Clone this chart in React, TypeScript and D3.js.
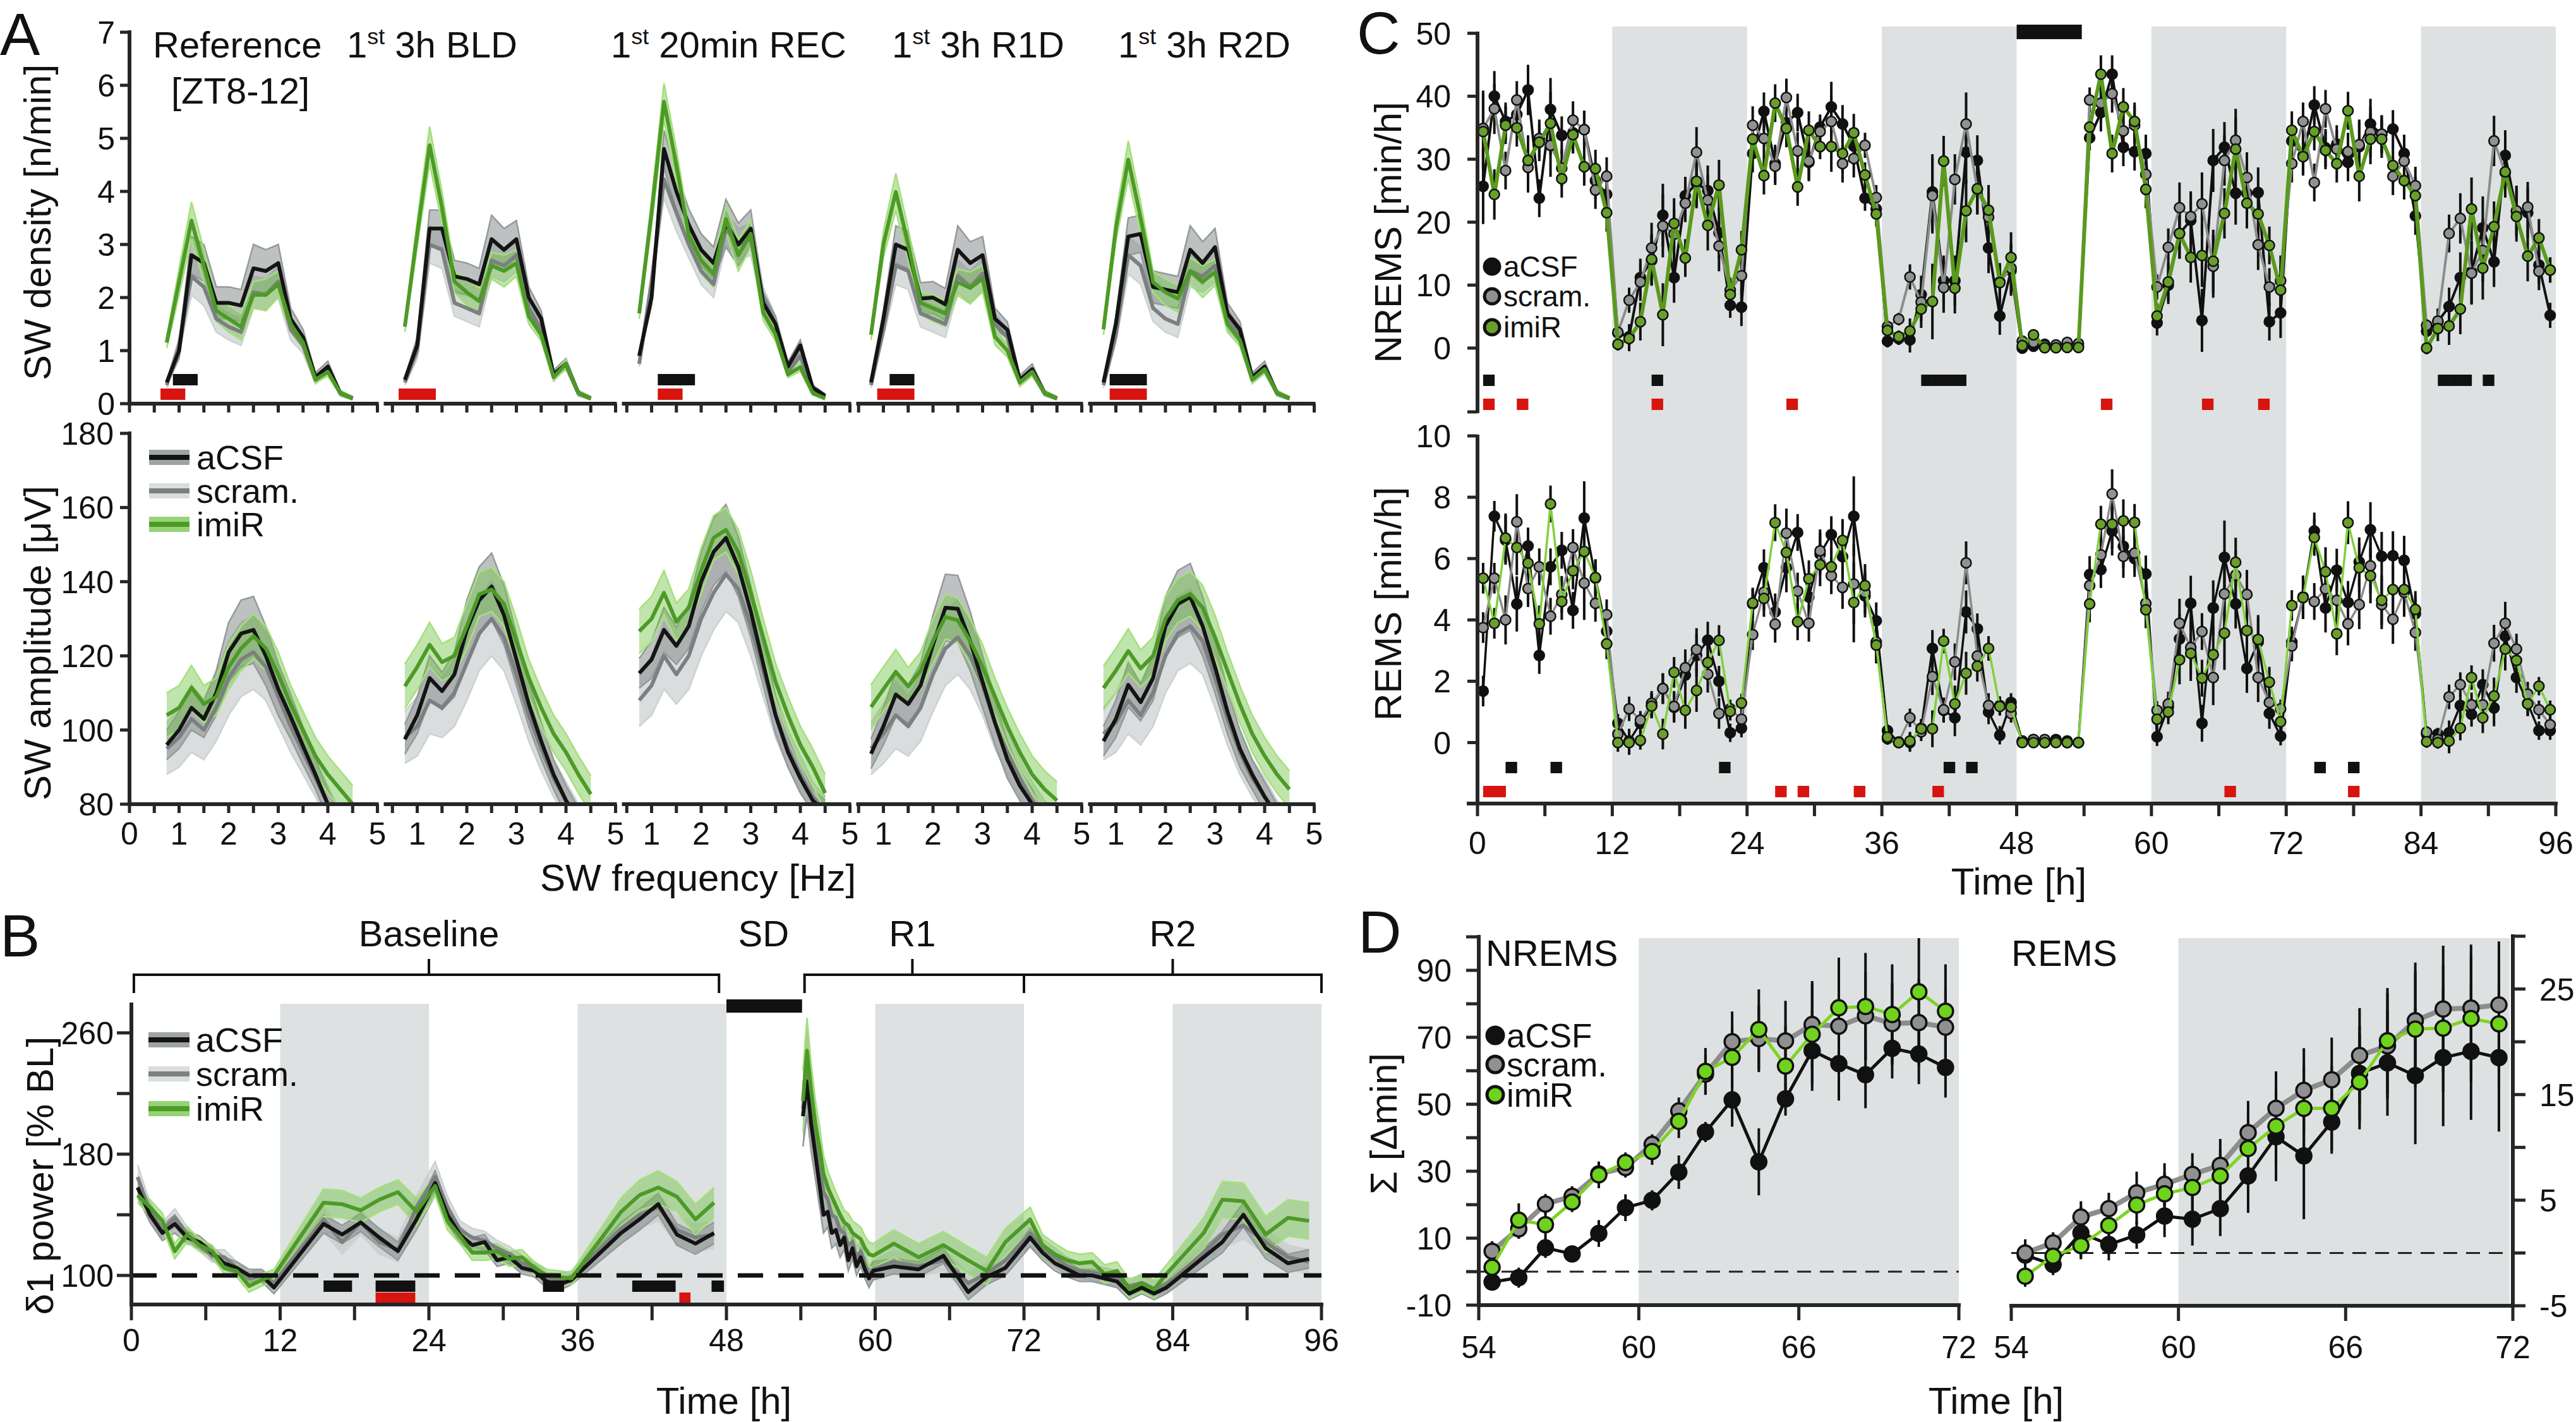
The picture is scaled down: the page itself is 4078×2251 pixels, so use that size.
import React from "react";
import * as d3 from "d3";

const FONT = "'Liberation Sans', Arial, Helvetica, sans-serif";
const AX = "#262626";
const SHADE = "#dde1e1";
const GROUPS = ["aCSF", "scram.", "imiR"];

// ================= Panel A data =================
const A_FREQ = [0.75, 1, 1.25, 1.5, 1.75, 2, 2.25, 2.5, 2.75, 3, 3.25, 3.5, 3.75, 4, 4.25, 4.5];
const A_TITLES = ["Reference", "1st 3h BLD", "1st 20min REC", "1st 3h R1D", "1st 3h R2D"];
const A_SUBTITLE = "[ZT8-12]";
const A_DENS_ACSF = [
  [0.4, 1.0, 2.8, 2.65, 1.9, 1.9, 1.85, 2.55, 2.5, 2.65, 1.6, 1.25, 0.5, 0.7, 0.2, 0.1],
  [0.45, 1.1, 3.3, 3.3, 2.4, 2.35, 2.25, 3.1, 2.9, 3.1, 2.0, 1.6, 0.55, 0.75, 0.2, 0.1],
  [0.9, 2.0, 4.8, 4.0, 3.37, 2.9, 2.65, 3.4, 3.0, 3.3, 1.9, 1.5, 0.7, 1.1, 0.3, 0.15],
  [0.4, 1.6, 3.0, 2.9, 1.98, 2.0, 1.87, 2.9, 2.65, 2.8, 1.6, 1.39, 0.45, 0.65, 0.2, 0.1],
  [0.4, 1.5, 3.15, 3.2, 2.2, 2.15, 2.1, 2.9, 2.65, 2.95, 1.7, 1.4, 0.5, 0.7, 0.2, 0.1],
];
const A_DENS_SCR = [
  [0.35, 1.1, 2.4, 2.2, 1.6, 1.45, 1.35, 2.1, 2.05, 2.3, 1.4, 1.1, 0.45, 0.65, 0.2, 0.1],
  [0.4, 1.0, 3.0, 2.9, 1.9, 1.8, 1.7, 2.7, 2.6, 2.8, 1.8, 1.4, 0.5, 0.75, 0.2, 0.1],
  [0.75, 2.3, 4.23, 3.6, 3.0, 2.5, 2.25, 3.3, 3.0, 3.1, 2.0, 1.5, 0.6, 0.9, 0.25, 0.12],
  [0.35, 1.4, 2.6, 2.5, 1.7, 1.6, 1.5, 2.4, 2.2, 2.45, 1.5, 1.25, 0.4, 0.6, 0.2, 0.1],
  [0.35, 1.3, 2.8, 2.6, 1.8, 1.6, 1.5, 2.5, 2.4, 2.6, 1.6, 1.3, 0.45, 0.65, 0.2, 0.1],
];
const A_DENS_IMIR = [
  [1.15, 2.3, 3.45, 2.6, 1.75, 1.6, 1.45, 2.05, 2.05, 2.25, 1.5, 1.15, 0.45, 0.6, 0.2, 0.1],
  [1.45, 3.2, 4.87, 3.7, 2.3, 2.1, 1.93, 2.6, 2.5, 2.65, 1.65, 1.3, 0.5, 0.75, 0.2, 0.1],
  [1.7, 3.6, 5.69, 4.5, 3.17, 2.7, 2.44, 3.48, 2.8, 3.2, 1.72, 1.3, 0.55, 0.69, 0.2, 0.1],
  [1.3, 3.0, 3.99, 3.0, 1.9, 1.8, 1.7, 2.29, 2.18, 2.36, 1.26, 1.0, 0.4, 0.6, 0.2, 0.1],
  [1.4, 3.3, 4.6, 3.5, 2.29, 2.1, 1.98, 2.5, 2.3, 2.48, 1.5, 1.2, 0.45, 0.65, 0.2, 0.1],
];
const A_DENS_SEM_ACSF = [0.05, 0.15, 0.35, 0.35, 0.3, 0.3, 0.3, 0.45, 0.4, 0.35, 0.2, 0.15, 0.08, 0.1, 0.05, 0.03];
const A_DENS_SEM_SCR = [0.05, 0.15, 0.35, 0.35, 0.25, 0.25, 0.25, 0.3, 0.3, 0.3, 0.2, 0.15, 0.08, 0.08, 0.05, 0.03];
const A_DENS_SEM_IMIR = [0.1, 0.25, 0.35, 0.3, 0.2, 0.25, 0.25, 0.25, 0.3, 0.25, 0.15, 0.12, 0.06, 0.08, 0.04, 0.03];

const A_AMP_ACSF = [
  [96, 100, 106, 103, 110, 121, 126, 127, 120, 111, 103.6, 95.7, 88, 80, 74, 70],
  [97.5, 104, 114, 110.5, 115, 127, 135, 138.7, 131, 119, 107, 97, 88, 81, 76, 72],
  [115.3, 119, 127, 122.7, 128, 140, 148, 151.8, 144, 132, 118, 104, 94, 87, 81, 78],
  [93.6, 101, 109.6, 107, 112, 123, 133, 132.7, 124, 113, 102, 92, 85, 80, 75, 72],
  [97, 103, 112.2, 107.5, 114, 128, 134, 135.9, 128, 117, 105, 95, 88, 82, 77, 73],
];
const A_AMP_SCR = [
  [95, 98, 103, 100, 106, 114, 119, 121, 117, 109, 101, 94, 87, 80, 74, 70],
  [98, 101, 108, 106, 110, 118, 126, 130, 125, 115, 104, 95, 87, 81, 76, 73],
  [108, 112, 120, 115, 120, 130, 137, 142, 138, 128, 116, 104, 95, 88, 82, 78],
  [95, 99, 104, 101, 106, 115, 122, 125, 120, 112, 102, 94, 87, 81, 77, 74],
  [99, 102, 108, 104, 110, 120, 126, 128, 124, 114, 103, 94, 87, 82, 77, 74],
];
const A_AMP_IMIR = [
  [104, 106, 111.4, 107, 109, 117, 122, 125.3, 122, 115, 107, 100, 93, 88, 84, 80],
  [111.8, 117, 123, 118.3, 120, 128, 136.6, 137.9, 134, 124, 114, 106, 99, 94, 88, 82.7],
  [126.6, 130, 137, 129.2, 133, 143, 151.8, 154, 148, 137, 125, 113, 104, 96, 90, 83],
  [106.2, 111, 115.7, 111.8, 116, 124, 130.5, 129.6, 124, 117, 109, 101, 94, 88, 84, 81],
  [111.3, 116, 121.3, 116.6, 120, 130, 135, 136.7, 133, 125, 116, 107, 99, 93, 88, 84],
];
const A_AMP_SEM_ACSF = [4, 5, 6, 5, 6, 8, 9, 9, 8, 7, 6, 5, 4, 4, 3, 3];
const A_AMP_SEM_SCR = [7, 8, 9, 8, 9, 10, 10, 10, 9, 8, 7, 6, 5, 5, 4, 4];
const A_AMP_SEM_IMIR = [6, 6, 6, 5, 5, 6, 6, 6, 6, 6, 5, 5, 5, 5, 5, 5];

// significant frequencies per subpanel (Hz)
const A_SIG_BLACK = [[1.0, 1.25], [], [1.25, 1.5, 1.75], [1.25, 1.5], [1.0, 1.25, 1.5]];
const A_SIG_RED = [[0.75, 1.0], [0.75, 1.0, 1.25], [1.25, 1.5], [1.0, 1.25, 1.5], [1.0, 1.25, 1.5]];

// ================= Panel B data =================
const B_T_BASE = [0.5, 1.5, 2.5, 3.5, 4.5, 5.5, 6.5, 7.5, 8.5, 9.5, 10.5, 11.5,
  15.5, 17, 18.5, 20, 21.5, 23,
  24.5, 25.5, 26.5, 27.5, 28.5, 29.5, 30.5, 31.5, 32.5, 33.5, 34.5, 35.5,
  39.5, 41, 42.5, 44, 45.5, 47];
const B_T_REC = [54.17, 54.5, 54.83, 55.17, 55.5, 55.83, 56.17, 56.5, 56.83, 57.17, 57.5, 57.83, 58.17, 58.5, 58.83, 59.17, 59.5, 59.83,
  61.5, 63.5, 65.5, 67.5, 69, 70.5,
  72.5, 73.5, 74.5, 75.5, 76.5, 77.5, 78.5, 79.5, 80.5, 81.5, 82.5, 83.5,
  86.5, 88, 89.7, 91.5, 93.3, 95];
const B_BASE_ACSF = [158, 140, 128, 134, 125, 122, 115, 108, 105, 100, 100, 92,
  134, 127, 135, 125, 116, 137,
  161, 140, 127, 120, 122, 110, 112, 105, 103, 96, 94, 97,
  128, 137, 147, 127, 121, 128];
const B_BASE_SCR = [165, 142, 130, 138, 127, 120, 113, 112, 105, 98, 100, 95,
  137, 122, 135, 122, 117, 145,
  165, 145, 130, 125, 123, 118, 114, 108, 105, 98, 97, 99,
  131, 140, 145, 130, 125, 127];
const B_BASE_IMIR = [153, 145, 136, 116, 127, 120, 116, 105, 103, 93, 97, 100,
  148, 147, 143, 150, 155, 142,
  159, 136, 126, 115, 115, 116, 111, 112, 105, 100, 99, 98,
  142, 153, 158, 152, 137, 148];
const B_REC_ACSF = [205, 228, 200, 180, 160, 140, 142, 128, 130, 120, 125, 110, 118, 106, 112, 104, 98, 103,
  106, 104, 113, 89, 99, 105,
  125, 115, 108, 104, 100, 100, 98, 96, 88, 92, 88, 92,
  112, 122, 140, 118, 108, 111];
const B_REC_SCR = [210, 235, 215, 190, 172, 155, 150, 140, 138, 130, 128, 120, 122, 112, 116, 108, 100, 104,
  109, 106, 110, 95, 101, 110,
  128, 118, 112, 106, 103, 102, 100, 98, 93, 95, 91, 94,
  115, 127, 133, 122, 112, 109];
const B_REC_IMIR = [215, 248, 222, 200, 185, 167, 158, 152, 146, 140, 135, 133, 128, 126, 124, 118, 114, 113,
  121, 112, 120, 110, 103, 122,
  137, 120, 114, 110, 108, 109, 101, 103, 91, 95, 91, 101,
  128, 150, 149, 127, 138, 136];
const B_BASE_SEM_ACSF = [6, 5, 5, 6, 4, 4, 4, 4, 4, 4, 4, 4, 6, 6, 6, 6, 6, 7, 8, 6, 5, 5, 5, 4, 4, 4, 4, 4, 4, 3, 7, 7, 7, 7, 7, 7];
const B_BASE_SEM_SCR = [8, 6, 5, 6, 5, 4, 4, 5, 4, 4, 4, 4, 8, 8, 8, 8, 8, 8, 10, 7, 6, 6, 6, 5, 5, 5, 4, 4, 4, 4, 9, 9, 9, 9, 9, 9];
const B_BASE_SEM_IMIR = [5, 5, 5, 5, 5, 4, 4, 4, 4, 4, 4, 4, 9, 9, 8, 8, 8, 9, 6, 6, 5, 5, 5, 5, 5, 5, 4, 4, 4, 4, 9, 10, 11, 10, 10, 10];
const B_REC_SEM_ACSF = [20, 22, 18, 16, 14, 12, 10, 10, 9, 8, 8, 7, 7, 6, 6, 6, 6, 6, 5, 5, 5, 5, 5, 5, 6, 5, 5, 5, 4, 4, 4, 4, 4, 4, 4, 4, 6, 7, 8, 7, 6, 6];
const B_REC_SEM_SCR = [25, 28, 22, 18, 15, 13, 12, 11, 10, 9, 8, 8, 7, 7, 6, 6, 6, 6, 7, 7, 7, 7, 7, 7, 8, 6, 6, 6, 5, 5, 5, 5, 5, 5, 5, 5, 8, 9, 9, 8, 8, 8];
const B_REC_SEM_IMIR = [20, 22, 18, 16, 14, 12, 11, 10, 9, 9, 8, 8, 8, 8, 8, 8, 8, 8, 9, 9, 9, 9, 9, 9, 8, 7, 7, 6, 6, 6, 6, 6, 6, 6, 6, 6, 10, 12, 12, 12, 12, 12];
const B_SIG_BLACK = [[15.5, 17.8], [19.7, 22.9], [33.2, 34.9], [40.4, 43.9], [46.8, 47.8]];
const B_SIG_RED = [[19.7, 22.9], [44.2, 45.1]];
const B_PHASES = ["Baseline", "SD", "R1", "R2"];

// ================= Panel C data (hourly, 0-96 h) =================
const C_NREM_ACSF = [25.7, 40.0, 36.0, 37.1, 41.0, 23.8, 37.9, 33.8, 34.2, 34.7, 26.6, 24.4,
  2.4, 1.8, 11.2, 13.9, 21.1, 11.2, 24.2, 26.2, 25.0, 18.3, 6.8, 6.5,
  30.9, 37.6, 29.3, 35.8, 37.4, 29.5, 35.1, 38.3, 35.6, 32.1, 23.8, 22.1,
  1.1, 1.5, 1.3, 8.5, 24.8, 10.7, 10.7, 31.1, 29.8, 15.9, 5.1, 12.3,
  0.0, 0.3, 0.6, 0.2, 0.3, 0.3, 33.4, 37.4, 43.5, 31.9, 31.2, 30.9,
  4.0, 10.0, 18.2, 20.3, 4.4, 29.8, 31.9, 24.6, 24.6, 24.7, 4.2, 5.6,
  32.9, 30.6, 38.6, 31.8, 32.4, 29.5, 32.0, 35.6, 33.9, 34.8, 30.9, 21.0,
  2.7, 4.2, 6.6, 11.2, 12.1, 19.1, 13.7, 30.6, 21.7, 21.5, 13.2, 5.2];
const C_NREM_SCR = [34.9, 38.0, 28.2, 39.4, 28.7, 33.3, 32.2, 28.6, 36.2, 34.7, 25.1, 27.3,
  2.5, 7.6, 10.5, 15.9, 19.4, 18.1, 23.0, 31.1, 23.5, 16.2, 9.2, 11.5,
  35.4, 33.3, 28.9, 39.8, 31.3, 29.7, 34.4, 36.0, 29.3, 30.1, 32.2, 23.9,
  3.4, 4.6, 11.3, 7.3, 24.2, 9.6, 26.8, 35.6, 25.2, 20.8, 10.5, 12.7,
  1.1, 0.9, 0.4, 0.5, 0.9, 0.7, 39.4, 38.9, 40.4, 34.5, 35.4, 27.6,
  9.7, 16.0, 22.3, 20.9, 22.9, 13.0, 29.8, 33.0, 27.1, 16.4, 9.7, 10.7,
  29.3, 36.0, 26.3, 38.0, 31.6, 31.2, 32.3, 34.3, 34.0, 27.3, 29.7, 25.8,
  3.6, 4.3, 18.2, 20.6, 11.9, 15.5, 32.9, 27.9, 21.8, 22.4, 12.2, 12.4];
const C_NREM_IMIR = [34.4, 24.4, 35.4, 35.0, 29.8, 32.7, 35.7, 26.9, 33.9, 28.8, 28.5, 21.5,
  0.6, 1.5, 4.2, 14.1, 5.3, 19.8, 14.3, 26.5, 19.5, 25.9, 8.5, 15.6,
  33.2, 27.4, 38.9, 34.9, 25.6, 34.6, 32.0, 32.0, 30.9, 34.2, 27.5, 21.3,
  2.8, 1.8, 2.7, 6.2, 7.4, 29.7, 9.5, 21.8, 25.3, 21.9, 10.4, 14.4,
  0.4, 2.1, 0.05, 0.05, 0.1, 0.1, 35.1, 43.5, 30.9, 38.3, 36.0, 25.2,
  5.1, 10.5, 18.2, 14.4, 14.7, 13.8, 21.4, 31.6, 23.0, 21.3, 16.3, 9.2,
  34.6, 30.4, 34.4, 31.4, 29.3, 37.7, 27.3, 33.2, 33.2, 29.0, 26.6, 24.2,
  0, 3.1, 3.5, 6.2, 22.1, 12.7, 19.3, 28.0, 20.9, 14.6, 17.5, 12.4];
const C_NREM_SEM = [6, 4, 3, 3, 4, 3, 5, 3, 3, 3, 3, 3,
  1, 2, 3, 4, 5, 4, 3, 4, 4, 4, 2, 3,
  3, 3, 3, 3, 3, 3, 2, 4, 3, 3, 2, 2,
  1, 1, 2, 3, 6, 4, 4, 5, 4, 4, 3, 4,
  0.3, 0.3, 0.3, 0.3, 0.3, 0.3, 2, 3, 3, 3, 3, 3,
  2, 3, 4, 4, 5, 5, 4, 5, 4, 4, 3, 4,
  3, 3, 3, 3, 3, 3, 4, 4, 3, 3, 3, 3,
  1, 2, 3, 4, 5, 5, 4, 4, 4, 4, 3, 2];
const C_REM_ACSF = [1.68, 7.38, 6.6, 4.52, 6.41, 2.84, 5.73, 6.27, 4.31, 7.32, 5.36, 3.63,
  0.63, 0.05, 0.63, 1.21, 1.76, 1.15, 2.2, 2.84, 3.34, 2.0, 0.32, 0.47,
  4.52, 5.7, 4.26, 5.7, 6.85, 4.75, 6.15, 6.78, 6.06, 7.38, 4.78, 3.97,
  0.39, 0, 0, 0.47, 3.07, 1.05, 0.81, 4.26, 3.71, 1.0, 0.24, 1.31,
  0.05, 0.1, 0, 0.1, 0.05, 0, 5.48, 5.64, 6.9, 6.4, 6.0, 5.5,
  0.19, 1.16, 3.38, 4.54, 0.63, 4.39, 6.04, 4.52, 2.42, 3.28, 0.95, 0.21,
  3.28, 4.73, 6.9, 4.39, 5.62, 4.57, 5.89, 6.94, 6.07, 6.09, 5.94, 4.2,
  0.28, 0.28, 0.32, 1.21, 0.92, 1.89, 1.13, 3.47, 2.12, 1.28, 0.39, 0.39];
const C_REM_SCR = [3.75, 5.36, 4.0, 7.2, 5.02, 5.73, 4.12, 4.83, 6.36, 5.2, 4.54, 4.17,
  0.28, 1.1, 0.73, 1.28, 1.76, 1.18, 2.44, 3.03, 2.23, 0.95, 1.1, 0.76,
  3.52, 4.9, 3.86, 6.83, 4.94, 3.89, 6.25, 5.44, 5.06, 5.17, 4.89, 3.28,
  0.13, 0.02, 0.81, 0.35, 2.15, 1.07, 2.63, 5.86, 2.82, 1.21, 1.21, 0.95,
  0.05, 0.1, 0.1, 0.05, 0, 0, 5.12, 6.12, 8.11, 6.07, 6.18, 4.54,
  1.05, 1.26, 3.89, 3.1, 3.62, 2.12, 4.85, 5.46, 4.83, 2.12, 1.31, 1.1,
  3.15, 4.75, 4.6, 5.01, 4.64, 3.87, 4.5, 5.76, 4.5, 4.02, 4.9, 3.59,
  0.34, 0.1, 1.49, 1.89, 1.23, 1.23, 3.24, 3.89, 3.05, 1.58, 1.07, 0.58];
const C_REM_IMIR = [5.36, 3.89, 6.67, 6.36, 5.85, 3.87, 7.78, 4.6, 5.6, 6.23, 5.38, 3.22,
  0, 0, 0.07, 1.19, 0.28, 2.29, 1.05, 1.7, 2.61, 3.33, 1.02, 1.29,
  4.55, 4.7, 7.17, 6.2, 3.94, 5.34, 5.8, 5.73, 6.59, 4.57, 5.12, 3.18,
  0.18, 0, 0.05, 0.45, 0.45, 3.31, 1.26, 2.26, 2.49, 3.07, 1.18, 1.16,
  0, 0, 0, 0, 0, 0, 4.52, 7.12, 7.12, 7.23, 7.18, 4.33,
  0.76, 1.0, 2.7, 2.91, 2.1, 2.87, 3.57, 5.88, 3.65, 3.36, 1.97, 0.68,
  4.47, 4.73, 6.69, 5.57, 3.55, 7.17, 5.7, 5.44, 4.64, 4.99, 4.99, 4.34,
  0.03, 0, 0.05, 0.47, 2.12, 0.81, 1.52, 3.05, 2.68, 1.26, 1.84, 1.07];
const C_REM_SEM = [0.5, 0.5, 0.8, 0.9, 0.6, 0.6, 0.6, 0.6, 0.6, 1.2, 0.6, 0.5,
  0.3, 0.4, 0.3, 0.4, 0.5, 0.5, 0.6, 0.7, 0.6, 0.5, 0.3, 0.3,
  0.5, 0.6, 0.6, 0.8, 0.6, 0.6, 0.7, 0.6, 0.7, 1.3, 0.7, 0.6,
  0.2, 0.1, 0.3, 0.3, 0.6, 0.4, 0.6, 0.7, 0.5, 0.4, 0.3, 0.3,
  0.05, 0.05, 0.05, 0.05, 0.05, 0.05, 0.6, 0.6, 0.8, 0.7, 0.6, 0.6,
  0.3, 0.4, 0.8, 0.9, 0.6, 0.9, 1.2, 0.8, 0.8, 0.8, 0.5, 0.3,
  0.5, 0.7, 0.6, 0.8, 0.7, 0.7, 0.8, 0.9, 0.8, 0.8, 0.8, 0.6,
  0.2, 0.2, 0.4, 0.4, 0.4, 0.5, 0.6, 0.7, 0.5, 0.4, 0.3, 0.3];
const C_NREM_SIG_BLACK = [0, 15, 39, 40, 41, 42, 85, 86, 87, 89];
const C_NREM_SIG_RED = [0, 3, 15, 27, 55, 64, 69];
const C_REM_SIG_BLACK = [2, 6, 21, 41, 43, 74, 77];
const C_REM_SIG_RED = [0, 1, 26, 28, 33, 40, 66, 77];

// ================= Panel D data (54-72 h) =================
const D_T = [54.5, 55.5, 56.5, 57.5, 58.5, 59.5, 60.5, 61.5, 62.5, 63.5, 64.5, 65.5, 66.5, 67.5, 68.5, 69.5, 70.5, 71.5];
const D_NREM_ACSF = [-3.1, -1.8, 7.1, 5.3, 11.4, 19.1, 21.3, 29.7, 41.7, 51.3, 32.8, 51.6, 66.0, 62.1, 58.8, 66.7, 65.0, 61.0];
const D_NREM_SCR = [6.1, 12.8, 20.2, 22.5, 29.2, 31.1, 38.0, 48.0, 59.0, 68.7, 69.6, 68.9, 73.8, 73.3, 76.4, 74.1, 74.4, 73.0];
const D_NREM_IMIR = [1.3, 15.4, 14.0, 20.8, 28.9, 32.6, 35.9, 44.9, 59.8, 64.0, 72.3, 61.4, 70.9, 78.8, 79.2, 76.8, 83.6, 77.8];
const D_NREM_SEM_ACSF = [2, 3, 3, 2, 4, 4, 3, 5, 3, 8, 10, 5, 12, 11, 10, 9, 9, 9];
const D_NREM_SEM_SCR = [3, 3, 3, 3, 3, 3, 3, 4, 6, 9, 10, 12, 13, 12, 13, 12, 13, 12];
const D_NREM_SEM_IMIR = [3, 5, 4, 3, 4, 3, 4, 5, 7, 9, 12, 12, 15, 15, 16, 15, 16, 14];
const D_REM_ACSF = [-0.2, -1.1, 1.9, 0.8, 1.7, 3.5, 3.2, 4.2, 7.3, 11.0, 9.2, 12.4, 17.0, 18.0, 16.8, 18.5, 19.1, 18.5];
const D_REM_SCR = [0.0, 0.96, 3.4, 4.2, 5.7, 6.5, 7.45, 8.3, 11.4, 13.7, 15.4, 16.4, 18.7, 19.6, 22.0, 23.1, 23.2, 23.5];
const D_REM_IMIR = [-2.2, -0.3, 0.7, 2.6, 4.55, 5.6, 6.2, 7.3, 9.9, 12.0, 13.7, 13.7, 16.2, 20.1, 21.2, 21.3, 22.2, 21.7];
const D_REM_SEM_ACSF = [1.5, 1, 2.5, 1.5, 1.3, 2, 2.5, 2.6, 3.5, 4.2, 6, 3, 4.5, 5, 6.5, 6.5, 6.5, 7];
const D_REM_SEM_SCR = [1, 1, 1.5, 1.5, 2, 2, 2, 2.5, 3, 3.5, 4, 4, 4.5, 5, 5.5, 6, 6, 6];
const D_REM_SEM_IMIR = [1, 1, 1.2, 1.5, 1.8, 2, 2.3, 2.5, 3, 3.5, 4, 4, 4.5, 5, 5.5, 6, 6, 6];

// ================= styles =================
const BAND_STYLE = [
  { line: "#141414", band: "#7d8484", bandOp: 0.5, edge: "#949a9a" },
  { line: "#7c8080", band: "#c2c7c7", bandOp: 0.6, edge: "#cdd1d1" },
  { line: "#4d9a27", band: "#72c448", bandOp: 0.45, edge: "#a5e07c" },
];
const C_STYLE_N = [
  { line: "#111111", fill: "#111111", lw: 4 },
  { line: "#8c8c8c", fill: "#909292", lw: 4 },
  { line: "#5a9a1c", fill: "#689f2a", lw: 6 },
];
const C_STYLE_R = [
  { line: "#111111", fill: "#111111", lw: 3.5 },
  { line: "#8c8c8c", fill: "#909292", lw: 3.5 },
  { line: "#7fd03a", fill: "#6a9f2c", lw: 3.5 },
];
const D_STYLE = [
  { line: "#111111", fill: "#111111", lw: 5 },
  { line: "#8d8d8d", fill: "#909090", lw: 8 },
  { line: "#7ed321", fill: "#6fd21c", lw: 5 },
];

function paths(xs: number[], m: number[], s: number[], sx: any, sy: any) {
  const line = d3.line<number>().x((_, i) => sx(xs[i])).y((d) => sy(d))(m) as string;
  const area = d3.area<number>().x((_, i) => sx(xs[i])).y0((d, i) => sy(d - s[i])).y1((d, i) => sy(d + s[i]))(m) as string;
  const up = d3.line<number>().x((_, i) => sx(xs[i])).y((d, i) => sy(d + s[i]))(m) as string;
  const lo = d3.line<number>().x((_, i) => sx(xs[i])).y((d, i) => sy(d - s[i]))(m) as string;
  return { line, area, up, lo };
}

function Title({ x, y, t, size }: any) {
  if (t.startsWith("1st")) {
    return (
      <text x={x} y={y} fontSize={size} style={{ whiteSpace: "pre" }}>
        1<tspan fontSize={size * 0.62} dy={-size * 0.36}>st</tspan>
        <tspan dy={size * 0.36}>{t.slice(3)}</tspan>
      </text>
    );
  }
  return <text x={x} y={y} fontSize={size}>{t}</text>;
}

function BandGroup({ xs, means, sems, sx, sy, keyp }: any) {
  const order = [1, 0, 2];
  const ps = means.map((m: number[], g: number) => paths(xs, m, sems[g], sx, sy));
  return (
    <g>
      {order.map((g) => (
        <g key={keyp + "b" + g}>
          <path d={ps[g].area} fill={BAND_STYLE[g].band} fillOpacity={BAND_STYLE[g].bandOp} stroke="none" />
          <path d={ps[g].up} fill="none" stroke={BAND_STYLE[g].edge} strokeWidth={2.5} />
          <path d={ps[g].lo} fill="none" stroke={BAND_STYLE[g].edge} strokeWidth={2.5} />
        </g>
      ))}
      {order.map((g) => (
        <path key={keyp + "l" + g} d={ps[g].line} fill="none" stroke={BAND_STYLE[g].line} strokeWidth={6} strokeLinejoin="round" />
      ))}
    </g>
  );
}

// ================= Panel A =================
const A_X0 = [205, 582, 953, 1320, 1688];
const A_HZ = 78.5;

function PanelA() {
  const yTop = d3.scaleLinear().domain([0, 7]).range([639, 51]);
  const yBot = d3.scaleLinear().domain([80, 180]).range([1273, 686]);
  const subs = A_X0.map((x0) => d3.scaleLinear().domain([0, 5]).range([x0, x0 + 5 * A_HZ]));
  const els: any[] = [];
  els.push(
    <defs key="adefs">
      <clipPath id="clipATop"><rect x={0} y={20} width={2200} height={619} /></clipPath>
      <clipPath id="clipABot"><rect x={0} y={660} width={2200} height={613} /></clipPath>
    </defs>
  );
  subs.forEach((sx, k) => {
    els.push(
      <g key={"adens" + k} clipPath="url(#clipATop)">
        <BandGroup xs={A_FREQ} means={[A_DENS_ACSF[k], A_DENS_SCR[k], A_DENS_IMIR[k]]}
          sems={[A_DENS_SEM_ACSF, A_DENS_SEM_SCR, A_DENS_SEM_IMIR]} sx={sx} sy={yTop} keyp={"ad" + k} />
      </g>
    );
    els.push(
      <g key={"aamp" + k} clipPath="url(#clipABot)">
        <BandGroup xs={A_FREQ} means={[A_AMP_ACSF[k], A_AMP_SCR[k], A_AMP_IMIR[k]]}
          sems={[A_AMP_SEM_ACSF, A_AMP_SEM_SCR, A_AMP_SEM_IMIR]} sx={sx} sy={yBot} keyp={"aa" + k} />
      </g>
    );
    const sb = A_SIG_BLACK[k];
    if (sb.length) {
      els.push(<rect key={"asb" + k} x={sx(sb[0] - 0.125)} y={592} width={sx(sb[sb.length - 1] + 0.125) - sx(sb[0] - 0.125)} height={18} fill="#111" />);
    }
    const sr = A_SIG_RED[k];
    if (sr.length) {
      els.push(<rect key={"asr" + k} x={sx(sr[0] - 0.125)} y={615} width={sx(sr[sr.length - 1] + 0.125) - sx(sr[0] - 0.125)} height={18} fill="#d7140f" />);
    }
    const segStart = k === 0 ? sx(0) : subs[k - 1](5) + 10;
    const segEnd = sx(5);
    [639, 1273].forEach((yy, j) => {
      els.push(<line key={"aax" + k + j} x1={segStart} x2={segEnd + 2} y1={yy} y2={yy} stroke={AX} strokeWidth={6} />);
      d3.range(0, 5.01, 0.5).forEach((v) => {
        const px = sx(v);
        if (px >= segStart - 1) {
          els.push(<line key={"aat" + k + j + v} x1={px} x2={px} y1={yy} y2={yy + 14} stroke={AX} strokeWidth={5} />);
        }
      });
    });
    d3.range(k === 0 ? 0 : 1, 6).forEach((v) => {
      els.push(<text key={"axl" + k + v} x={sx(v)} y={1337} fontSize={50} textAnchor="middle">{v}</text>);
    });
  });
  els.push(<line key="ayt" x1={205} x2={205} y1={48} y2={642} stroke={AX} strokeWidth={6} />);
  d3.range(0, 8).forEach((v) => {
    els.push(<line key={"aytt" + v} x1={190} x2={205} y1={yTop(v)} y2={yTop(v)} stroke={AX} strokeWidth={5} />);
    els.push(<text key={"aytl" + v} x={182} y={yTop(v) + 18} fontSize={50} textAnchor="end">{v}</text>);
  });
  els.push(<line key="ayb" x1={205} x2={205} y1={683} y2={1276} stroke={AX} strokeWidth={6} />);
  d3.range(80, 181, 20).forEach((v) => {
    els.push(<line key={"aybt" + v} x1={190} x2={205} y1={yBot(v)} y2={yBot(v)} stroke={AX} strokeWidth={5} />);
    els.push(<text key={"aybl" + v} x={180} y={yBot(v) + 18} fontSize={50} textAnchor="end">{v}</text>);
  });
  const tx = [242, 549, 967, 1412, 1770];
  A_TITLES.forEach((t, k) => els.push(<Title key={"at" + k} x={tx[k]} y={91} t={t} size={58} />));
  els.push(<text key="asub" x={271} y={164} fontSize={58}>{A_SUBTITLE}</text>);
  els.push(<text key="aylab1" transform="translate(80,352) rotate(-90)" fontSize={60} textAnchor="middle">SW density [n/min]</text>);
  els.push(<text key="aylab2" transform="translate(80,1018) rotate(-90)" fontSize={60} textAnchor="middle">SW amplitude [μV]</text>);
  els.push(<text key="axlab" x={1105} y={1410} fontSize={60} textAnchor="middle">SW frequency [Hz]</text>);
  [724, 777, 830].forEach((yy, g) => {
    els.push(<rect key={"alr" + g} x={236} y={yy - 12} width={64} height={24} fill={BAND_STYLE[g].band} fillOpacity={g === 1 ? 0.6 : 0.75} />);
    els.push(<line key={"all" + g} x1={236} x2={300} y1={yy} y2={yy} stroke={BAND_STYLE[g].line} strokeWidth={8} />);
    els.push(<text key={"alt" + g} x={311} y={yy + 19} fontSize={54}>{GROUPS[g]}</text>);
  });
  els.push(<text key="A" x={0} y={87} fontSize={95}>A</text>);
  return <g>{els}</g>;
}

// ================= Panel B =================
function PanelB() {
  const sx = d3.scaleLinear().domain([0, 96]).range([208, 2092]);
  const sy = d3.scaleLinear().domain([100, 260]).range([2019, 1635]);
  const els: any[] = [];
  [12, 36, 60, 84].forEach((t) => {
    els.push(<rect key={"bs" + t} x={sx(t)} y={1589} width={sx(t + 12) - sx(t)} height={2065 - 1589} fill={SHADE} />);
  });
  els.push(
    <BandGroup key="bbase" xs={B_T_BASE} means={[B_BASE_ACSF, B_BASE_SCR, B_BASE_IMIR]}
      sems={[B_BASE_SEM_ACSF, B_BASE_SEM_SCR, B_BASE_SEM_IMIR]} sx={sx} sy={sy} keyp="bb" />
  );
  els.push(
    <BandGroup key="brec" xs={B_T_REC} means={[B_REC_ACSF, B_REC_SCR, B_REC_IMIR]}
      sems={[B_REC_SEM_ACSF, B_REC_SEM_SCR, B_REC_SEM_IMIR]} sx={sx} sy={sy} keyp="br" />
  );
  els.push(<line key="bdash" x1={208} x2={sx(96)} y1={sy(100)} y2={sy(100)} stroke="#111" strokeWidth={7} strokeDasharray="40 24" />);
  B_SIG_BLACK.forEach((b, i) => els.push(<rect key={"bsb" + i} x={sx(b[0])} y={2027} width={sx(b[1]) - sx(b[0])} height={18} fill="#111" />));
  B_SIG_RED.forEach((b, i) => els.push(<rect key={"bsr" + i} x={sx(b[0])} y={2046} width={sx(b[1]) - sx(b[0])} height={18} fill="#d7140f" />));
  els.push(<line key="bya" x1={208} x2={208} y1={1587} y2={2068} stroke={AX} strokeWidth={6} />);
  [100, 140, 180, 220, 260].forEach((v) => {
    els.push(<line key={"byt" + v} x1={185} x2={208} y1={sy(v)} y2={sy(v)} stroke={AX} strokeWidth={5} />);
    if (v % 80 === 20) {
      els.push(<text key={"byl" + v} x={180} y={sy(v) + 18} fontSize={50} textAnchor="end">{v}</text>);
    }
  });
  els.push(<line key="bxa" x1={205} x2={sx(96) + 3} y1={2065} y2={2065} stroke={AX} strokeWidth={6} />);
  d3.range(0, 97, 6).forEach((t) => {
    els.push(<line key={"bxt" + t} x1={sx(t)} x2={sx(t)} y1={2065} y2={2090} stroke={AX} strokeWidth={5} />);
    if (t % 12 === 0) els.push(<text key={"bxl" + t} x={sx(t)} y={2139} fontSize={50} textAnchor="middle">{t}</text>);
  });
  els.push(<text key="bxlab" x={1146} y={2238} fontSize={60} textAnchor="middle">Time [h]</text>);
  els.push(<text key="bylab" transform="translate(84,1861) rotate(-90)" fontSize={60} textAnchor="middle">δ1 power [% BL]</text>);
  els.push(<rect key="bsd" x={sx(48)} y={1582} width={sx(54.1) - sx(48)} height={21} fill="#111" />);
  const bk = { stroke: "#111", strokeWidth: 4, fill: "none" };
  els.push(<path key="bbr1" d={`M${sx(0.2)},1572 V1543 H${sx(47.4)} V1572`} {...bk} />);
  els.push(<line key="bbr1t" x1={sx(24)} x2={sx(24)} y1={1543} y2={1518} {...bk} />);
  els.push(<path key="bbr2" d={`M${sx(54.3)},1572 V1543 H${sx(96)} V1572`} {...bk} />);
  els.push(<line key="bbr2a" x1={sx(63)} x2={sx(63)} y1={1543} y2={1518} {...bk} />);
  els.push(<line key="bbr2b" x1={sx(84)} x2={sx(84)} y1={1543} y2={1518} {...bk} />);
  els.push(<line key="bbr2c" x1={sx(72)} x2={sx(72)} y1={1543} y2={1572} {...bk} />);
  const phx = [24, 51, 63, 84];
  B_PHASES.forEach((p, i) => els.push(<text key={"bph" + i} x={sx(phx[i])} y={1498} fontSize={58} textAnchor="middle">{p}</text>));
  [1646, 1700, 1755].forEach((yy, g) => {
    els.push(<rect key={"blr" + g} x={235} y={yy - 12} width={65} height={24} fill={BAND_STYLE[g].band} fillOpacity={g === 1 ? 0.6 : 0.75} />);
    els.push(<line key={"bll" + g} x1={235} x2={300} y1={yy} y2={yy} stroke={BAND_STYLE[g].line} strokeWidth={8} />);
    els.push(<text key={"blt" + g} x={310} y={yy + 19} fontSize={54}>{GROUPS[g]}</text>);
  });
  els.push(<text key="B" x={0} y={1514} fontSize={95}>B</text>);
  return <g>{els}</g>;
}

// ================= Panel C =================
function DotSeries({ xs, vals, sem, sx, sy, styles, r, sw, keyp, semAll }: any) {
  const els: any[] = [];
  vals.forEach((v: number[], g: number) => {
    const s = semAll ? semAll[g] : sem;
    v.forEach((d, i) => {
      if (s[i] > 0.15) {
        els.push(<line key={keyp + "e" + g + "_" + i} x1={sx(xs[i])} x2={sx(xs[i])} y1={sy(d - s[i])} y2={sy(d + s[i])} stroke="#111" strokeWidth={4} />);
      }
    });
  });
  vals.forEach((v: number[], g: number) => {
    const ln = d3.line<number>().x((_, i) => sx(xs[i])).y((d) => sy(d))(v) as string;
    els.push(<path key={keyp + "l" + g} d={ln} fill="none" stroke={styles[g].line} strokeWidth={styles[g].lw} strokeLinejoin="round" />);
    v.forEach((d, i) => {
      els.push(<circle key={keyp + "c" + g + "_" + i} cx={sx(xs[i])} cy={sy(d)} r={r} fill={styles[g].fill} stroke="#111" strokeWidth={sw} />);
    });
  });
  return <g>{els}</g>;
}

function PanelC() {
  const sx = d3.scaleLinear().domain([0, 96]).range([2339, 4046]);
  const yN = d3.scaleLinear().domain([0, 50]).range([551, 52.7]);
  const yR = d3.scaleLinear().domain([0, 10]).range([1175.5, 690]);
  const hours = d3.range(0, 96).map((h) => h + 0.5);
  const els: any[] = [];
  [12, 36, 60, 84].forEach((t) => {
    els.push(<rect key={"cs" + t} x={sx(t)} y={42} width={sx(t + 12) - sx(t)} height={1272 - 42} fill={SHADE} />);
  });
  els.push(<rect key="csd" x={sx(48)} y={39} width={sx(53.8) - sx(48)} height={23} fill="#111" />);
  els.push(<DotSeries key="cn" xs={hours} vals={[C_NREM_ACSF, C_NREM_SCR, C_NREM_IMIR]} sem={C_NREM_SEM} sx={sx} sy={yN} styles={C_STYLE_N} r={8} sw={2.5} keyp="cn" />);
  els.push(<DotSeries key="cr" xs={hours} vals={[C_REM_ACSF, C_REM_SCR, C_REM_IMIR]} sem={C_REM_SEM} sx={sx} sy={yR} styles={C_STYLE_R} r={8} sw={2.5} keyp="cr" />);
  const sig = (arr: number[], y: number, col: string, k: string) =>
    arr.forEach((h) => els.push(<rect key={k + h} x={sx(h + 0.5)} y={y} width={sx(h + 1.5) - sx(h + 0.5) + 0.5} height={18} fill={col} />));
  sig(C_NREM_SIG_BLACK, 593, "#111", "cnsb");
  sig(C_NREM_SIG_RED, 631, "#d7140f", "cnsr");
  sig(C_REM_SIG_BLACK, 1206, "#111", "crsb");
  sig(C_REM_SIG_RED, 1244, "#d7140f", "crsr");
  els.push(<line key="cya1" x1={2339} x2={2339} y1={50} y2={654} stroke={AX} strokeWidth={6} />);
  d3.range(0, 51, 10).forEach((v) => {
    els.push(<line key={"cyt1" + v} x1={2323} x2={2339} y1={yN(v)} y2={yN(v)} stroke={AX} strokeWidth={5} />);
    els.push(<text key={"cyl1" + v} x={2297} y={yN(v) + 18} fontSize={50} textAnchor="end">{v}</text>);
  });
  els.push(<line key="cyb1" x1={2323} x2={2339} y1={652} y2={652} stroke={AX} strokeWidth={5} />);
  els.push(<line key="cya2" x1={2339} x2={2339} y1={688} y2={1275} stroke={AX} strokeWidth={6} />);
  d3.range(0, 11, 2).forEach((v) => {
    els.push(<line key={"cyt2" + v} x1={2323} x2={2339} y1={yR(v)} y2={yR(v)} stroke={AX} strokeWidth={5} />);
    els.push(<text key={"cyl2" + v} x={2297} y={yR(v) + 18} fontSize={50} textAnchor="end">{v}</text>);
  });
  els.push(<line key="cxa" x1={2322} x2={sx(96) + 3} y1={1272} y2={1272} stroke={AX} strokeWidth={6} />);
  d3.range(0, 97, 6).forEach((t) => {
    els.push(<line key={"cxt" + t} x1={sx(t)} x2={sx(t)} y1={1272} y2={1292} stroke={AX} strokeWidth={5} />);
    if (t % 12 === 0) els.push(<text key={"cxl" + t} x={sx(t)} y={1352} fontSize={50} textAnchor="middle">{t}</text>);
  });
  els.push(<text key="cxlab" x={3196} y={1416} fontSize={60} textAnchor="middle">Time [h]</text>);
  els.push(<text key="cylab1" transform="translate(2218,368) rotate(-90)" fontSize={60} textAnchor="middle">NREMS [min/h]</text>);
  els.push(<text key="cylab2" transform="translate(2218,956) rotate(-90)" fontSize={60} textAnchor="middle">REMS [min/h]</text>);
  [422, 469, 518].forEach((yy, g) => {
    els.push(<circle key={"clc" + g} cx={2362} cy={yy} r={12} fill={C_STYLE_N[g].fill} stroke="#111" strokeWidth={5} />);
    els.push(<text key={"clt" + g} x={2380} y={yy + 16} fontSize={46}>{GROUPS[g]}</text>);
  });
  els.push(<text key="C" x={2148} y={85} fontSize={95}>C</text>);
  return <g>{els}</g>;
}

// ================= Panel D =================
function PanelD() {
  const sxN = d3.scaleLinear().domain([54, 72]).range([2341, 3101]);
  const syN = d3.scaleLinear().domain([-10, 100]).range([2066, 1483]);
  const sxR = d3.scaleLinear().domain([54, 72]).range([3184, 3978]);
  const syR = d3.scaleLinear().domain([-5, 30]).range([2067, 1482]);
  const els: any[] = [];
  els.push(<rect key="dsn" x={sxN(60)} y={1485} width={sxN(72) - sxN(60)} height={2066 - 1485} fill={SHADE} />);
  els.push(<rect key="dsr" x={sxR(60)} y={1485} width={sxR(72) - sxR(60) - 5} height={2067 - 1485} fill={SHADE} />);
  els.push(<line key="ddn" x1={sxN(54)} x2={sxN(72)} y1={syN(0)} y2={syN(0)} stroke="#222" strokeWidth={3} strokeDasharray="22 14" />);
  els.push(<line key="ddr" x1={sxR(54)} x2={sxR(72)} y1={syR(0)} y2={syR(0)} stroke="#222" strokeWidth={3} strokeDasharray="22 14" />);
  els.push(<DotSeries key="dn" xs={D_T} vals={[D_NREM_ACSF, D_NREM_SCR, D_NREM_IMIR]} semAll={[D_NREM_SEM_ACSF, D_NREM_SEM_SCR, D_NREM_SEM_IMIR]} sx={sxN} sy={syN} styles={D_STYLE} r={12} sw={3.5} keyp="dn" />);
  els.push(<DotSeries key="dr" xs={D_T} vals={[D_REM_ACSF, D_REM_SCR, D_REM_IMIR]} semAll={[D_REM_SEM_ACSF, D_REM_SEM_SCR, D_REM_SEM_IMIR]} sx={sxR} sy={syR} styles={D_STYLE} r={12} sw={3.5} keyp="dr" />);
  els.push(<line key="dya" x1={2341} x2={2341} y1={1480} y2={2069} stroke={AX} strokeWidth={6} />);
  d3.range(-10, 101, 10).forEach((v) => {
    els.push(<line key={"dyt" + v} x1={2321} x2={2341} y1={syN(v)} y2={syN(v)} stroke={AX} strokeWidth={5} />);
    if ((v + 10) % 20 === 0) els.push(<text key={"dyl" + v} x={2298} y={syN(v) + 18} fontSize={50} textAnchor="end">{v}</text>);
  });
  els.push(<line key="dxa" x1={2338} x2={sxN(72) + 3} y1={2066} y2={2066} stroke={AX} strokeWidth={6} />);
  [54, 60, 66, 72].forEach((t) => {
    els.push(<line key={"dxt" + t} x1={sxN(t)} x2={sxN(t)} y1={2066} y2={2090} stroke={AX} strokeWidth={5} />);
    els.push(<text key={"dxl" + t} x={sxN(t)} y={2150} fontSize={50} textAnchor="middle">{t}</text>);
  });
  els.push(<line key="dxa2" x1={sxR(54) - 3} x2={sxR(72) + 3} y1={2067} y2={2067} stroke={AX} strokeWidth={6} />);
  [54, 60, 66, 72].forEach((t) => {
    els.push(<line key={"dxt2" + t} x1={sxR(t)} x2={sxR(t)} y1={2067} y2={2091} stroke={AX} strokeWidth={5} />);
    els.push(<text key={"dxl2" + t} x={sxR(t)} y={2150} fontSize={50} textAnchor="middle">{t}</text>);
  });
  els.push(<line key="dya2" x1={3978} x2={3978} y1={1479} y2={2070} stroke={AX} strokeWidth={6} />);
  d3.range(-5, 31, 5).forEach((v) => {
    els.push(<line key={"dyt2" + v} x1={3978} x2={3998} y1={syR(v)} y2={syR(v)} stroke={AX} strokeWidth={5} />);
    if ((v + 5) % 10 === 0) els.push(<text key={"dyl2" + v} x={4020} y={syR(v) + 18} fontSize={50} textAnchor="start">{v}</text>);
  });
  els.push(<text key="dn1" x={2352} y={1529} fontSize={58}>NREMS</text>);
  els.push(<text key="dn2" x={3184} y={1529} fontSize={58}>REMS</text>);
  els.push(<text key="dxlab" x={3160} y={2238} fontSize={60} textAnchor="middle">Time [h]</text>);
  els.push(<text key="dylab" transform="translate(2211,1779) rotate(-90)" fontSize={60} textAnchor="middle">Σ [Δmin]</text>);
  [1639, 1685, 1733].forEach((yy, g) => {
    els.push(<circle key={"dlc" + g} cx={2367} cy={yy} r={13} fill={D_STYLE[g].fill} stroke="#111" strokeWidth={5} />);
    els.push(<text key={"dlt" + g} x={2385} y={yy + 19} fontSize={53}>{GROUPS[g]}</text>);
  });
  els.push(<text key="D" x={2150} y={1508} fontSize={95}>D</text>);
  return <g>{els}</g>;
}

export default function App() {
  const W = 4078, H = 2251;
  return (
    <svg width={W} height={H} style={{ position: "absolute", left: 0, top: 0 }} fontFamily={FONT} fill="#111">
      <rect width={W} height={H} fill="#fff" />
      <PanelA />
      <PanelB />
      <PanelC />
      <PanelD />
    </svg>
  );
}
